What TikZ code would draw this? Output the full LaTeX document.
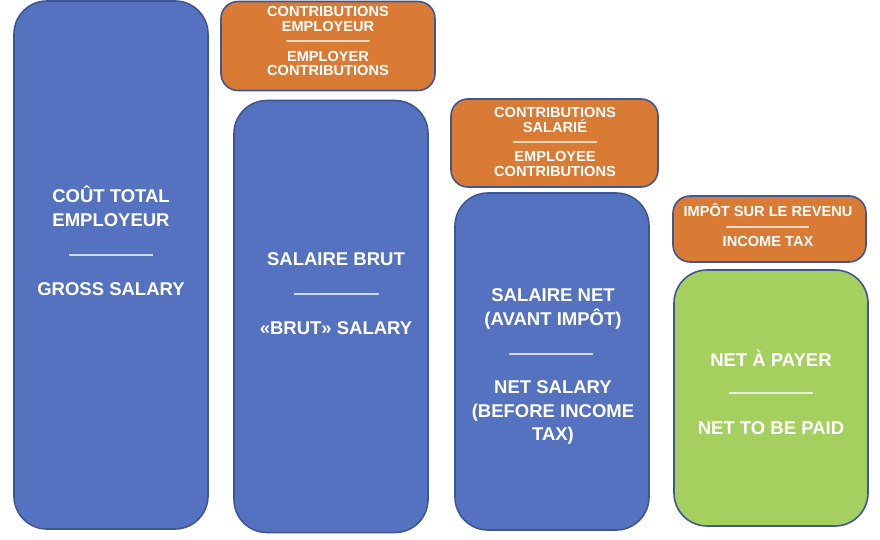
\documentclass[tikz,border=0pt]{standalone}
\usepackage{fontspec}
\setmainfont{Liberation Sans}
\definecolor{bfill}{HTML}{5572C1}
\definecolor{ofill}{HTML}{D97B35}
\definecolor{gfill}{HTML}{A5CF5E}
\definecolor{edge}{HTML}{3E5692}
\tikzset{
  box/.style={draw=edge, line width=1.6bp, inner sep=0pt},
  bluebox/.style={box, fill=bfill, rounded corners=33bp},
  greenbox/.style={box, fill=gfill, rounded corners=33bp},
  orangebox/.style={box, fill=ofill, rounded corners=17bp},
  big/.style={text=white, anchor=base, inner sep=0pt, font=\bfseries\fontsize{18.5bp}{22bp}\selectfont},
  small/.style={text=white, anchor=base, inner sep=0pt, font=\bfseries\fontsize{14.6bp}{15bp}\selectfont},
  divider/.style={draw=white, draw opacity=0.72, line width=1.3bp}
}
\begin{document}
\begin{tikzpicture}[x=1bp, y=-1bp]
\useasboundingbox (0,0) rectangle (880,540);
% boxes
\node[bluebox, minimum width=194bp, minimum height=528bp] (b1) at (111,265) {};
\node[orangebox, minimum width=214bp, minimum height=89bp] (o2) at (328,46) {};
\node[bluebox, minimum width=194bp, minimum height=432bp] (b2) at (331,316.5) {};
\node[orangebox, minimum width=207bp, minimum height=88bp] (o3) at (554.5,143) {};
\node[bluebox, minimum width=194bp, minimum height=337bp] (b3) at (552,361.5) {};
\node[orangebox, minimum width=193bp, minimum height=66bp] (o4) at (769.5,229) {};
\node[greenbox, minimum width=194bp, minimum height=256bp] (g4) at (771,398) {};
% box 1 text
\node[big] (t1a) at (111,203) {COÛT TOTAL};
\node[big] (t1b) at (111,227) {EMPLOYEUR};
\draw[divider] (69,255) -- (153,255);
\node[big] (t1c) at (111,296) {GROSS SALARY};
% orange 2
\node[small] (t2a) at (328,17) {CONTRIBUTIONS};
\node[small] (t2b) at (328,32) {EMPLOYEUR};
\draw[divider] (286,41) -- (370,41);
\node[small] (t2c) at (328,62) {EMPLOYER};
\node[small] (t2d) at (328,76) {CONTRIBUTIONS};
% box 2
\node[big] (t3a) at (336,266) {SALAIRE BRUT};
\draw[divider] (294,294) -- (379,294);
\node[big] (t3b) at (336,335) {«BRUT» SALARY};
% orange 3
\node[small] (t4a) at (555,118) {CONTRIBUTIONS};
\node[small] (t4b) at (555,133) {SALARIÉ};
\draw[divider] (513,142) -- (597,142);
\node[small] (t4c) at (555,162) {EMPLOYEE};
\node[small] (t4d) at (555,177) {CONTRIBUTIONS};
% box 3
\node[big] (t5a) at (553,302) {SALAIRE NET};
\node[big] (t5b) at (553,326) {(AVANT IMPÔT)};
\draw[divider] (509,354) -- (593,354);
\node[big] (t5c) at (553,393) {NET SALARY};
\node[big] (t5d) at (553,417) {(BEFORE INCOME};
\node[big] (t5e) at (553,440) {TAX)};
% orange 4
\node[small] (t6a) at (768,217) {IMPÔT SUR LE REVENU};
\draw[divider] (726,227) -- (809,227);
\node[small] (t6b) at (768,247) {INCOME TAX};
% green
\node[big] (t7a) at (771,366) {NET À PAYER};
\draw[divider] (729,393) -- (813,393);
\node[big] (t7b) at (771,434) {NET TO BE PAID};
\end{tikzpicture}
\end{document}
